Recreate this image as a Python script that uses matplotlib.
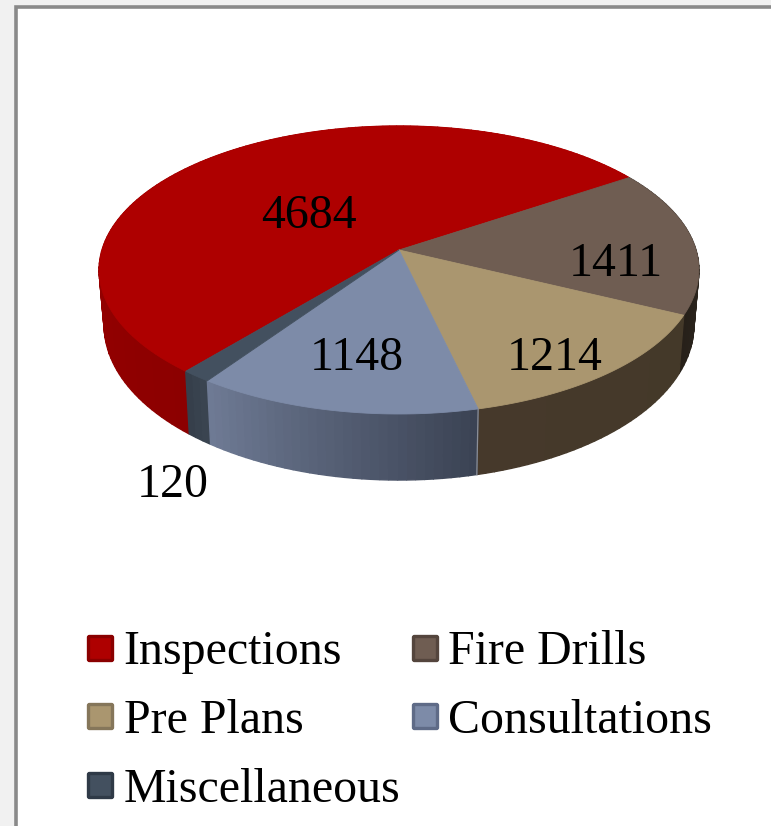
#3D style pie, drawn by hand since matplotlib has no perspective pie
import matplotlib
matplotlib.use("Agg")
import matplotlib.pyplot as plt
from matplotlib.patches import Polygon, Rectangle, FancyBboxPatch
from matplotlib.colors import to_rgb
import numpy as np

plt.rcParams['font.family'] = ['Liberation Serif', 'DejaVu Serif']

categories = ["Inspections", "Fire Drills", "Pre Plans", "Consultations", "Miscellaneous"]
values = [4684, 1411, 1214, 1148, 120]

top_colors = ["#ae0000", "#6f5d52", "#aa966f", "#7d8ba8", "#43505f"]
side_colors = [("#8c0000", "#b00000"), ("#3a322c", "#262019"), ("#443929", "#46392b"),
               ("#3b4354", "#707c96"), ("#3a4450", "#343d49")]
edge_colors = ["#8a0000", "#54453d", "#85765a", "#5f6b87", "#2f3a47"]

label_x = [309, 616, 555, 357, 173]
label_y = [216, 264, 358, 358, 485]

# pie geometry in image pixels
start_angle = 129.9
cx = 399
apex_top = 250
apex_bottom = 303.5
sx_top, sy_top = 297, 141.2
sx_bottom, sy_bottom = 292, 152
k = 0.139  # perspective strength

def project(theta, apex, sx, sy):
    t = np.radians(theta)
    d = 1 - k * np.sin(t)
    return cx + sx * np.cos(t) / d, apex + sy * np.sin(t) / d

fig = plt.figure(figsize=(7.71, 8.26), dpi=100, facecolor="#f1f1f1")
ax = fig.add_axes([0, 0, 1, 1])
ax.set_xlim(0, 771)
ax.set_ylim(826, 0)
ax.axis("off")

# white panel with grey border
ax.add_patch(Rectangle((15.5, 7), 770, 830, facecolor="white", edgecolor="#8a8a8a", lw=2.6, zorder=1))

shares = 360 * np.array(values) / sum(values)
ends = start_angle + np.cumsum(shares)
starts = ends - shares

# sides first, back to front
quads = []
for i in range(len(values)):
    steps = max(int(shares[i] / 1.5), 2)
    angles = np.linspace(starts[i], ends[i], steps + 1)
    c0, c1 = np.array(to_rgb(side_colors[i][0])), np.array(to_rgb(side_colors[i][1]))
    for j in range(steps):
        frac = j / steps
        quads.append((np.sin(np.radians(angles[j])), angles[j], angles[j + 1], c0 + (c1 - c0) * frac))
quads.sort(key=lambda q: q[0])
for _, a0, a1, col in quads:
    x0, y0 = project(a0, apex_top, sx_top, sy_top)
    x1, y1 = project(a1, apex_top, sx_top, sy_top)
    x2, y2 = project(a1, apex_bottom, sx_bottom, sy_bottom)
    x3, y3 = project(a0, apex_bottom, sx_bottom, sy_bottom)
    ax.add_patch(Polygon([(x0, y0), (x1, y1), (x2, y2), (x3, y3)], closed=True,
                         facecolor=col, edgecolor=col, lw=1.0, zorder=2))

# light seam on the front between Consultations and Pre Plans
x0, y0 = project(starts[3], apex_top, sx_top, sy_top)
x1, y1 = project(starts[3], apex_bottom, sx_bottom, sy_bottom)
ax.plot([x0, x1], [y0, y1], color="#8b8f98", lw=0.9, zorder=3)

# top face
for i in range(len(values)):
    angles = np.linspace(starts[i], ends[i], max(int(shares[i]), 2) + 1)
    xs, ys = project(angles, apex_top, sx_top, sy_top)
    pts = [(cx, apex_top)] + list(zip(xs, ys))
    ax.add_patch(Polygon(pts, closed=True, facecolor=top_colors[i], edgecolor=top_colors[i], lw=0.6, zorder=4))

for i in range(len(values)):
    ax.text(label_x[i], label_y[i], str(values[i]), fontsize=34.5, ha="center", va="center", color="black", zorder=5)

# legend
legend_x = [87, 412, 87, 412, 87]
legend_y = [635, 635, 703, 703, 772]
legend_base = [664, 664, 733, 733, 802]
for i in range(len(categories)):
    ax.add_patch(FancyBboxPatch((legend_x[i] + 1.5, legend_y[i] + 1.5), 24, 24, boxstyle="round,pad=0,rounding_size=1",
                                facecolor=top_colors[i], edgecolor=edge_colors[i], lw=2.4, zorder=5))
    ax.text(legend_x[i] + 36.5, legend_base[i], categories[i], fontsize=34.5, ha="left", va="baseline", color="black", zorder=5)

fig.savefig("out.png", dpi=100, facecolor=fig.get_facecolor())
